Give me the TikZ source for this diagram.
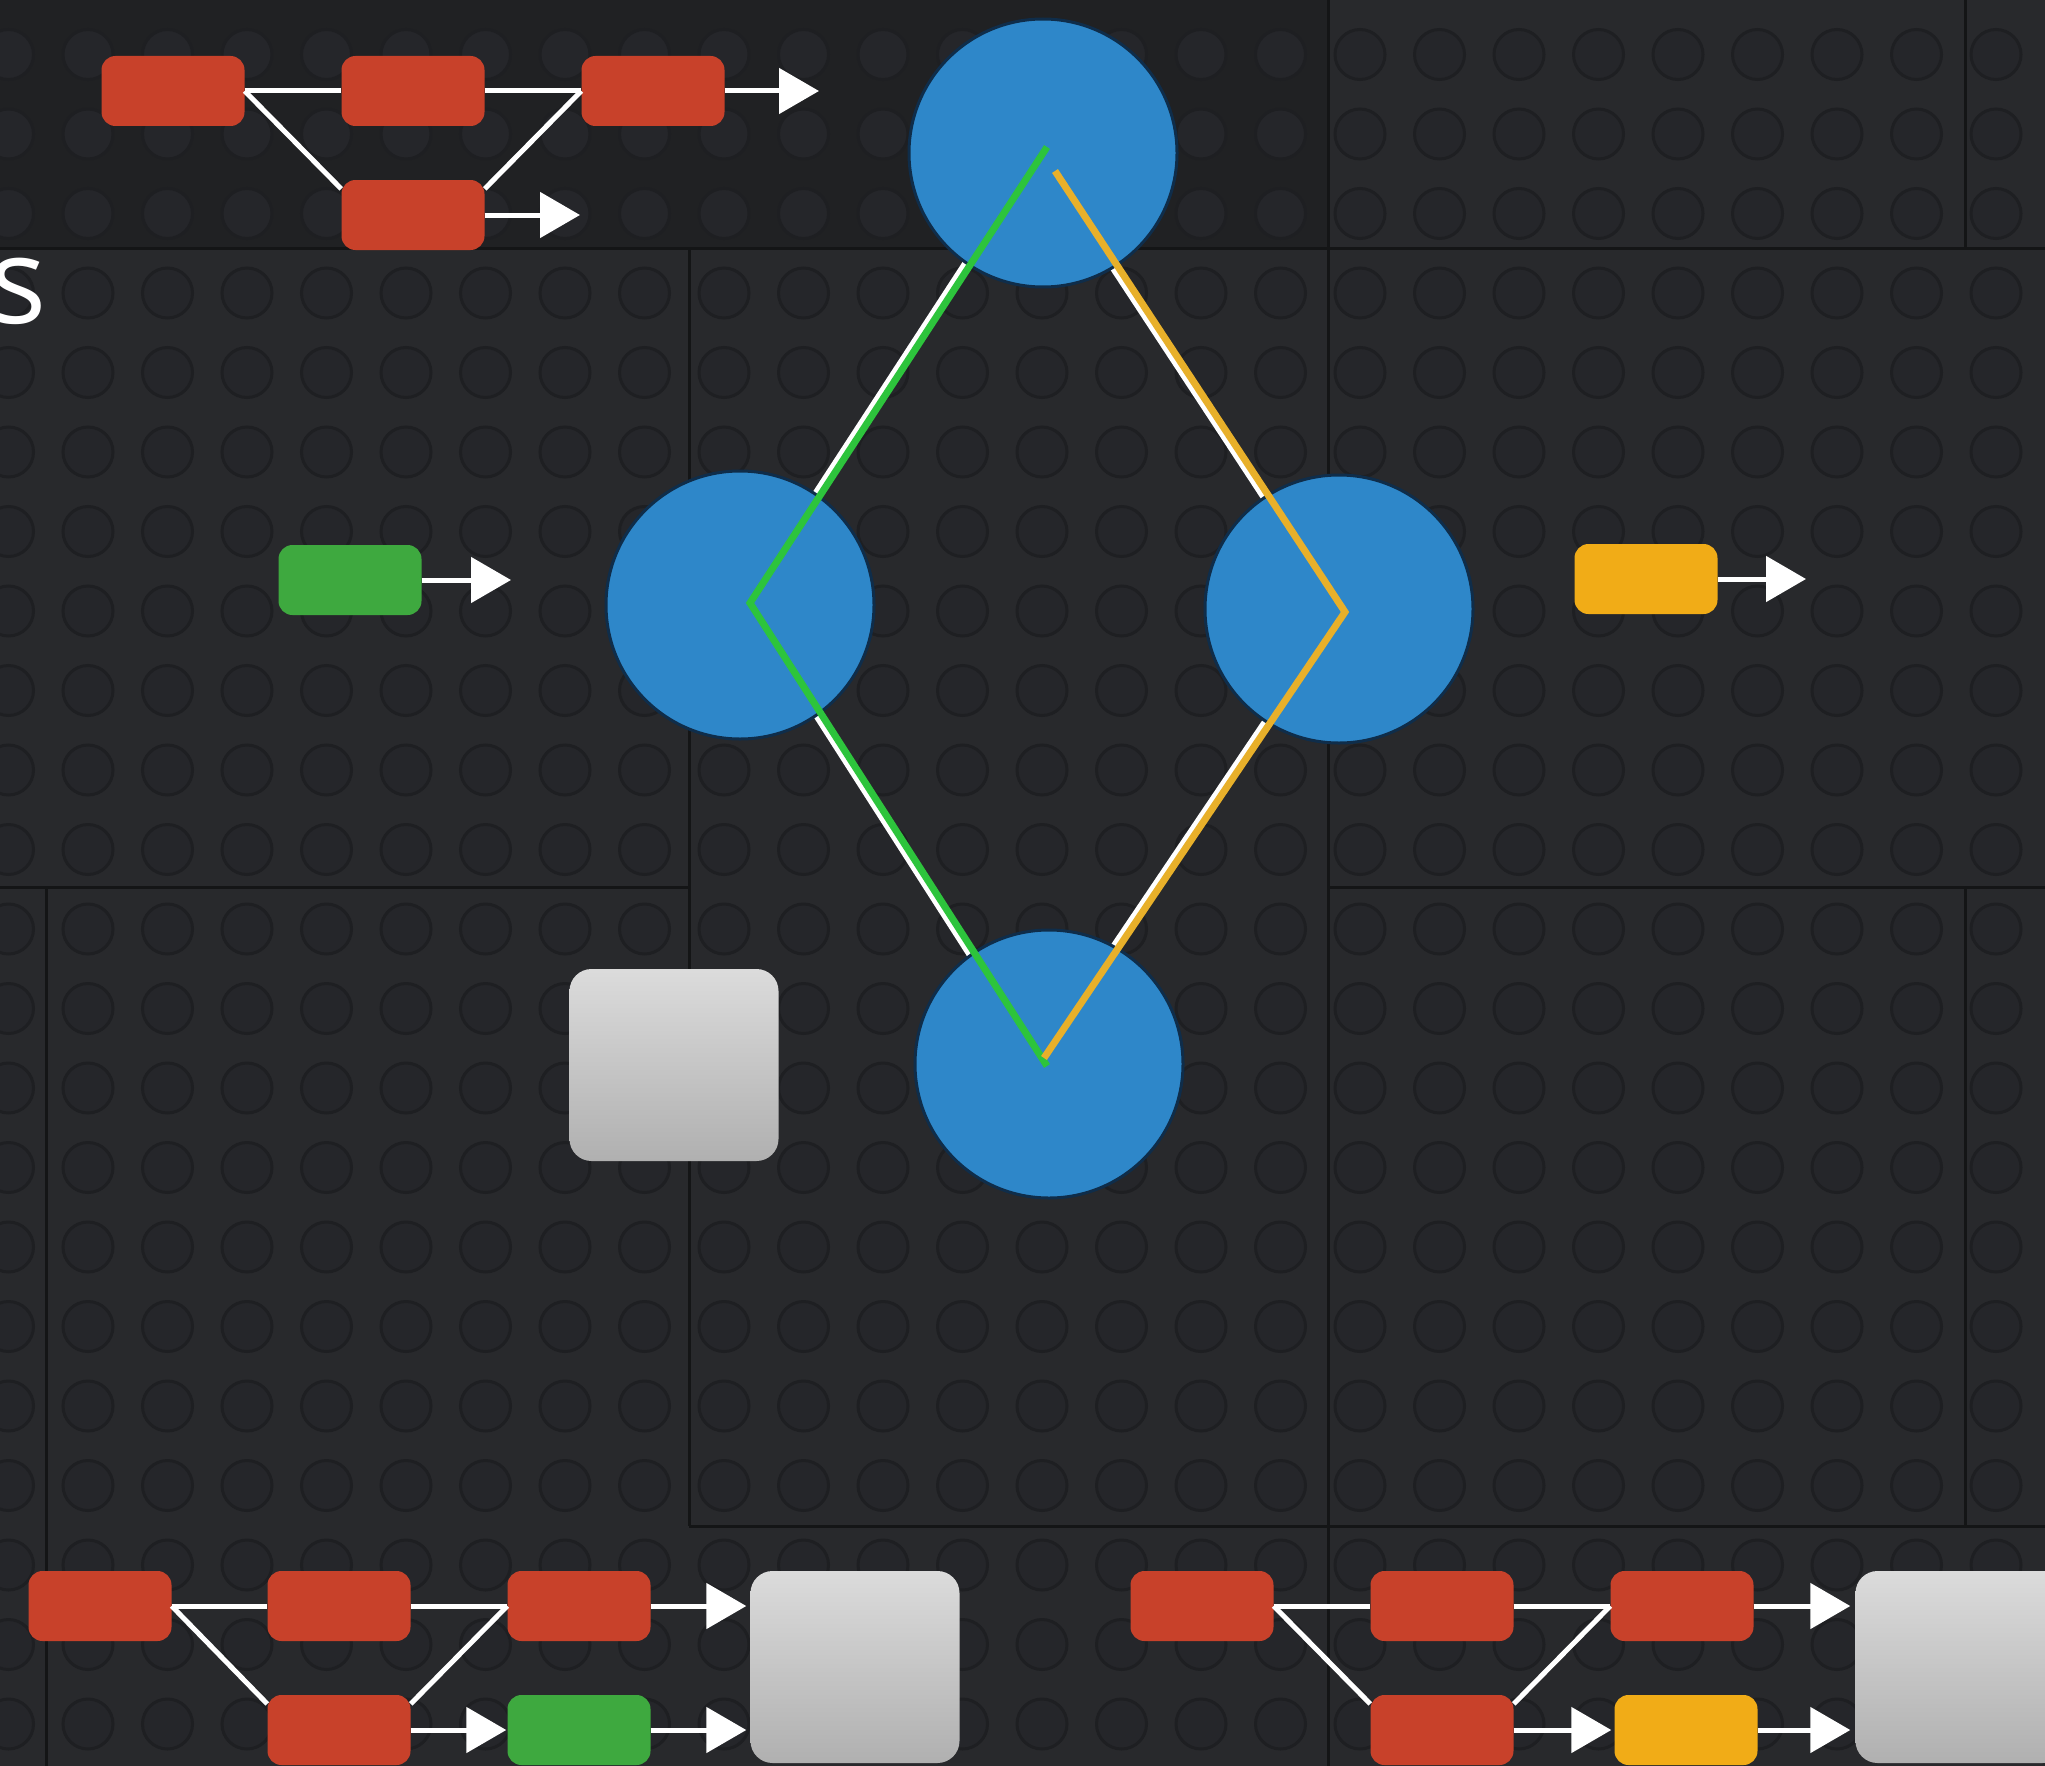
\documentclass[tikz,border=0pt]{standalone}
\usepackage{fontspec}
\setmainfont{Open Sans}
\usetikzlibrary{arrows.meta,calc}
\definecolor{bgc}{HTML}{28292C}
\definecolor{bgtop}{HTML}{202123}
\definecolor{studc}{HTML}{25262A}
\definecolor{studedge}{HTML}{1E1F22}
\definecolor{seam}{HTML}{141516}
\definecolor{redc}{HTML}{C8412A}
\definecolor{greenc}{HTML}{3EA93F}
\definecolor{yellowc}{HTML}{F1AC17}
\definecolor{bluec}{HTML}{2E87C9}
\definecolor{bluedark}{HTML}{0F2D4A}
\definecolor{gline}{HTML}{2DC43C}
\definecolor{yline}{HTML}{E8B02A}
\tikzset{
  redbox/.style={rectangle, rounded corners=14pt, fill=redc, minimum width=143pt, minimum height=70pt, inner sep=0pt},
  grnbox/.style={redbox, fill=greenc},
  yelbox/.style={redbox, fill=yellowc},
  graybox/.style={rectangle, rounded corners=22pt, top color=gray!28, bottom color=gray!62, minimum width=209pt, minimum height=192pt, inner sep=0pt},
  hub/.style={circle, fill=bluec, draw=bluedark, line width=3pt, minimum size=268pt, inner sep=0pt},
  link/.style={white, line width=5pt},
  arr/.style={link, -{Triangle[length=40pt,width=45pt]}},
  glow/.style={white, line width=6pt},
  gpath/.style={gline, line width=7pt, line join=miter},
  ypath/.style={yline, line width=7pt, line join=miter},
  seamline/.style={seam, line width=3pt}
}
\begin{document}
\begin{tikzpicture}[x=1pt,y=-1pt]
\clip (0,0) rectangle (2045,1766);
\fill[bgc] (0,0) rectangle (2045,1766);
\fill[bgtop] (0,0) rectangle (1328,248);
% studs
\foreach \i in {0,...,25}{
  \foreach \j in {0,...,22}{
    \path[fill=studc, draw=studedge, line width=3pt] ({8.5+79.5*\i},{54.5+79.5*\j}) circle (25);
  }
}
% panel seams
\draw[seamline] (0,248) -- (2045,248);
\draw[seamline] (689,248) -- (689,1526);
\draw[seamline] (1328,0) -- (1328,1766);
\draw[seamline] (1965,0) -- (1965,248);
\draw[seamline] (1965,887) -- (1965,1526);
\draw[seamline] (0,887) -- (689,887);
\draw[seamline] (1328,887) -- (2045,887);
\draw[seamline] (689,1526) -- (2045,1526);
\draw[seamline] (46,887) -- (46,1766);

% title fragment
\node[text=white, font=\fontsize{120}{120}\selectfont, anchor=base east, inner sep=0pt] (s) at (47,323) {s};

% hubs (positions)
\path (1043,153) coordinate (Tc) (740,605) coordinate (Lc) (1339,609) coordinate (Rc) (1049,1064) coordinate (Bc);
\coordinate (gS) at ($(Tc)+(4,-6)$);
\coordinate (gL) at ($(Lc)+(10,-2)$);
\coordinate (gB) at ($(Bc)+(-2,2)$);
\coordinate (yS) at ($(Tc)+(12,18)$);
\coordinate (yR) at ($(Rc)+(6,3)$);
\coordinate (yB) at ($(Bc)+(-5,-6)$);
% white glow behind
\draw[glow] ([xshift=-6pt]gS) -- ([xshift=-6pt]gL) -- ([xshift=-6pt]gB);
\draw[glow] ([xshift=-6pt]yS) -- ([xshift=-6pt]yR) -- ([xshift=-6pt]yB);
\node[hub] (T) at (Tc) {};
\node[hub] (L) at (Lc) {};
\node[hub] (R) at (Rc) {};
\node[hub] (B) at (Bc) {};
\draw[gpath] (gS) -- (gL) -- (gB);
\draw[ypath] (yS) -- (yR) -- (yB);

% top-left graph
\node[redbox] (A) at (173,91) {};
\node[redbox] (Bx) at (413,91) {};
\node[redbox] (C) at (653,91) {};
\node[redbox] (D) at (413,215) {};
\coordinate (cEnd) at (819,91);
\coordinate (dEnd) at (580,215);
\draw[link] (A.east) -- (Bx.west);
\draw[link] (Bx.east) -- (C.west);
\draw[link] (A.east) -- (D.160);
\draw[link] (D.20) -- (C.west);
\draw[arr] (C.east) -- (cEnd);
\draw[arr] (D.east) -- (dEnd);

% single green / yellow
\node[grnbox] (G) at (350,580) {};
\coordinate (gEnd) at (511,580);
\draw[arr] (G.east) -- (gEnd);
\node[yelbox] (Y) at (1646,579) {};
\coordinate (yEnd) at (1806,579);
\draw[arr] (Y.east) -- (yEnd);

% middle gray box
\node[graybox] (M) at (674,1065) {};

% bottom-left graph
\node[redbox] (P1) at (100,1606) {};
\node[redbox] (P2) at (339,1606) {};
\node[redbox] (P3) at (579,1606) {};
\node[redbox] (P4) at (339,1730) {};
\node[grnbox] (PG) at (579,1730) {};
\node[graybox] (PX) at (855,1667) {};
\draw[link] (P1.east) -- (P2.west);
\draw[link] (P2.east) -- (P3.west);
\draw[link] (P1.east) -- (P4.160);
\draw[link] (P4.20) -- (P3.west);
\draw[arr, shorten >=4pt] (P3.east) -- (P3.east -| PX.west);
\draw[arr, shorten >=1pt] (P4.east) -- (PG.west);
\draw[arr, shorten >=4pt] (PG.east) -- (PG.east -| PX.west);

% bottom-right graph
\node[redbox] (Q1) at (1202,1606) {};
\node[redbox] (Q2) at (1442,1606) {};
\node[redbox] (Q3) at (1682,1606) {};
\node[redbox] (Q4) at (1442,1730) {};
\node[yelbox] (QY) at (1686,1730) {};
\node[graybox] (QX) at (1960,1667) {};
\draw[link] (Q1.east) -- (Q2.west);
\draw[link] (Q2.east) -- (Q3.west);
\draw[link] (Q1.east) -- (Q4.160);
\draw[link] (Q4.20) -- (Q3.west);
\draw[arr, shorten >=5pt] (Q3.east) -- (Q3.east -| QX.west);
\draw[arr, shorten >=3pt] (Q4.east) -- (QY.west);
\draw[arr, shorten >=5pt] (QY.east) -- (QY.east -| QX.west);
\end{tikzpicture}
\end{document}
